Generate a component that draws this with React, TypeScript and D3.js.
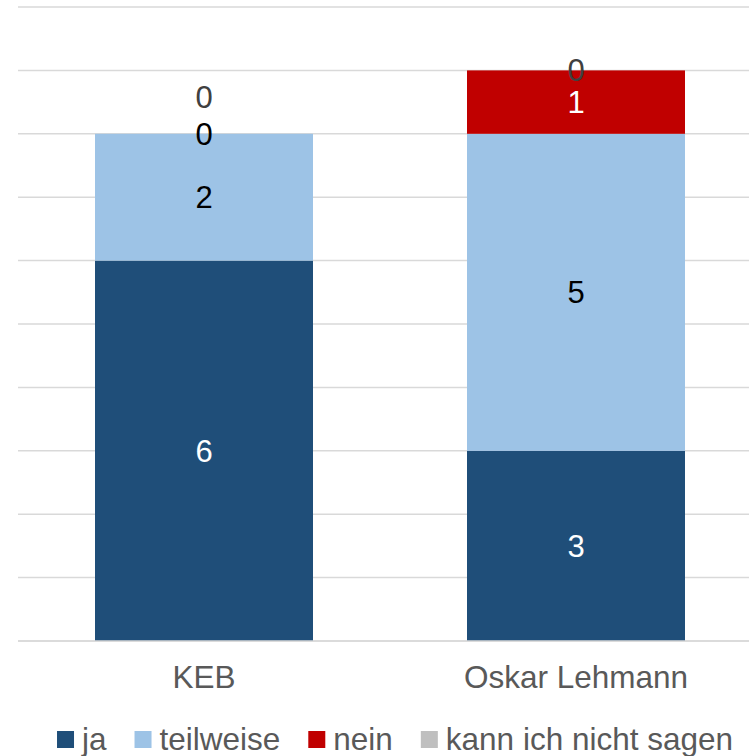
import React from "react";
import * as d3 from "d3";

const categories = ["KEB", "Oskar Lehmann"];
const seriesNames = ["ja", "teilweise", "nein", "kann ich nicht sagen"];
const jaValues = [6, 3];
const teilweiseValues = [2, 5];
const neinValues = [0, 1];
const kannValues = [0, 0];
const seriesColors = ["#1f4e79", "#9dc3e6", "#c00000", "#bfbfbf"];
const labelColors = ["auto", "auto", "auto", "#404040"];
const yTicks = [0, 1, 2, 3, 4, 5, 6, 7, 8, 9, 10];

const W = 749;
const H = 756;
const FONT = "'Liberation Sans', Arial, Helvetica, sans-serif";

function contrast(fill: string) {
  const c = d3.rgb(fill);
  const lum = (0.299 * c.r + 0.587 * c.g + 0.114 * c.b) / 255;
  return lum > 0.5 ? "#000000" : "#ffffff";
}

export default function App() {
  const series = [jaValues, teilweiseValues, neinValues, kannValues];
  const x = d3.scaleBand<string>().domain(categories).range([18, 762]).padding(0);
  const y = d3.scaleLinear().domain([0, 10]).range([641, 7]);
  const barW = x.bandwidth() * 0.586;

  const table = categories.map((c, i) => {
    const row: any = { cat: c };
    seriesNames.forEach((s, k) => (row[s] = series[k][i]));
    return row;
  });
  const stack = d3.stack<any>().keys(seriesNames)(table);

  // labels with simple overlap avoidance
  const labels: { x: number; y: number; text: string; color: string }[] = [];
  categories.forEach((c, i) => {
    let prevY: number | null = null;
    let prevFill = "#ffffff";
    stack.forEach((layer, k) => {
      const [a, b] = layer[i];
      const v = b - a;
      let cy = (y(a) + y(b)) / 2;
      if (prevY !== null && Math.abs(prevY - cy) < 28) cy = prevY - 37;
      prevY = cy;
      const under = v > 0 ? seriesColors[k] : prevFill;
      if (v > 0) prevFill = seriesColors[k];
      labels.push({
        x: (x(c) as number) + x.bandwidth() / 2,
        y: cy,
        text: String(v),
        color: labelColors[k] === "auto" ? contrast(under) : labelColors[k],
      });
    });
  });

  // legend layout
  const legendFont = 31.5;
  const charW = (s: string) => {
    const widths: Record<string, number> = {
      j: 0.222, a: 0.556, t: 0.278, e: 0.556, i: 0.222, l: 0.222, w: 0.722, s: 0.5,
      n: 0.556, k: 0.5, c: 0.5, h: 0.556, g: 0.556, " ": 0.278,
    };
    return s.split("").reduce((acc, ch) => acc + (widths[ch] ?? 0.556), 0) * legendFont;
  };
  const sq = 17;
  const gapSqText = 8;
  const gapItems = 28;
  const itemWidths = seriesNames.map((s) => sq + gapSqText + charW(s));
  const total = itemWidths.reduce((a, b) => a + b, 0) + gapItems * (seriesNames.length - 1);
  let lx = 395 - total / 2;
  const legendItems = seriesNames.map((s, k) => {
    const item = { x: lx, name: s, color: seriesColors[k] };
    lx += itemWidths[k] + gapItems;
    return item;
  });

  return (
    <svg
      width={W}
      height={H}
      style={{ position: "absolute", left: 0, top: 0, background: "#fff" }}
      fontFamily={FONT}
    >
      <rect x={0} y={0} width={W} height={H} fill="#ffffff" />
      {yTicks.map((t) => (
        <line
          key={t}
          x1={18}
          x2={762}
          y1={y(t)}
          y2={y(t)}
          stroke="#d9d9d9"
          strokeWidth={1.5}
        />
      ))}
      {stack.map((layer, k) =>
        layer.map((d, i) => {
          const c = categories[i];
          const cx = (x(c) as number) + x.bandwidth() / 2;
          const h = y(d[0]) - y(d[1]);
          if (h <= 0) return null;
          return (
            <rect
              key={`${k}-${i}`}
              x={cx - barW / 2}
              y={y(d[1])}
              width={barW}
              height={h}
              fill={seriesColors[k]}
            />
          );
        })
      )}
      <line x1={18} x2={762} y1={y(0)} y2={y(0)} stroke="#d9d9d9" strokeWidth={1.5} />
      {labels.map((l, i) => (
        <text
          key={i}
          x={l.x}
          y={l.y}
          dy="0.358em"
          textAnchor="middle"
          fontSize={31}
          fill={l.color}
        >
          {l.text}
        </text>
      ))}
      {categories.map((c) => (
        <text
          key={c}
          x={(x(c) as number) + x.bandwidth() / 2}
          y={688}
          textAnchor="middle"
          fontSize={31.5}
          fill="#595959"
        >
          {c}
        </text>
      ))}
      {legendItems.map((it) => (
        <g key={it.name}>
          <rect x={it.x} y={731} width={sq} height={sq} fill={it.color} />
          <text x={it.x + sq + gapSqText} y={750} fontSize={legendFont} fill="#595959">
            {it.name}
          </text>
        </g>
      ))}
    </svg>
  );
}
